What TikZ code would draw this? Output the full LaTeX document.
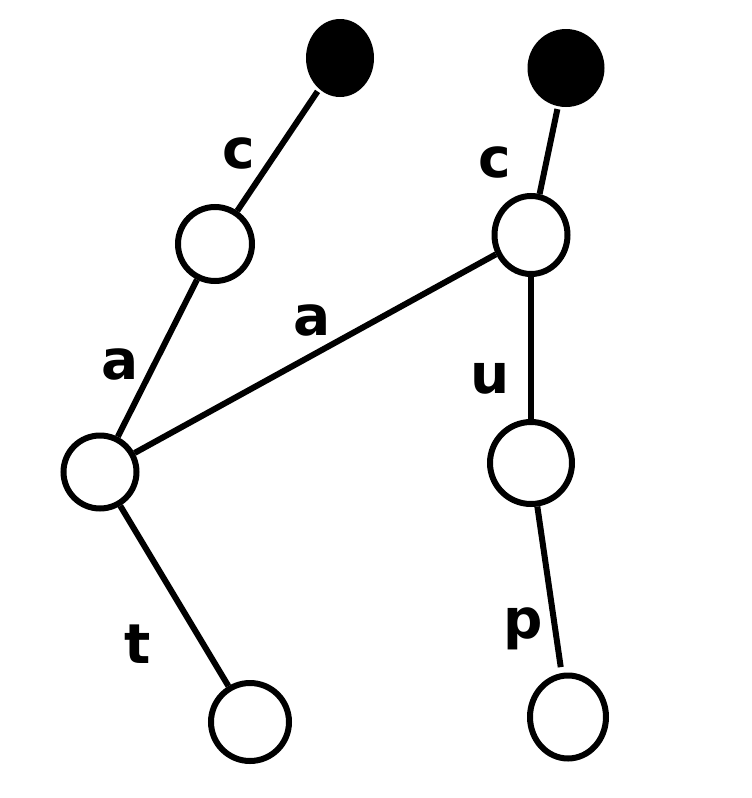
\documentclass[tikz,border=0pt]{standalone}
\usepackage{fontspec}
\setmainfont{DejaVu Sans}
\usetikzlibrary{shapes.geometric}
\tikzset{
  vtx/.style={ellipse,draw,line width=6pt,inner sep=0pt,minimum width=#1,minimum height=#1},
  root/.style={ellipse,fill=black,inner sep=0pt},
  lbl/.style={anchor=base,inner sep=0pt,font=\fontsize{55}{55}\selectfont\bfseries},
}
\begin{document}
\begin{tikzpicture}[x=1pt,y=-1pt,line width=6pt]
  \useasboundingbox (0,0) rectangle (752,798);
  % the two roots
  \node[root,minimum width=68pt,minimum height=78pt] (r1) at (340,58) {};
  \node[root,minimum width=77pt,minimum height=78pt] (r2) at (566,68) {};
  % the trie nodes
  \node[vtx=74pt] (c1) at (215,244) {};
  \node[vtx=73pt,minimum height=78pt] (c2) at (531,235) {};
  \node[vtx=73pt] (a1) at (100,472) {};
  \node[vtx=82pt] (u1) at (531,463) {};
  \node[vtx=78pt] (t1) at (250,722) {};
  \node[vtx=76pt,minimum height=83pt] (p1) at (568,717) {};
  % edges
  \draw (r1) -- (c1);
  \draw (r2) -- (c2);
  \draw (c1) -- (a1);
  \draw (c2) -- (a1);
  \draw (c2) -- (u1);
  \draw (a1) -- (t1);
  \draw[shorten >=6pt] (u1) -- (p1);
  % letters
  \foreach \x/\y/\t in {239/168/c,495/177/c,120/379/a,312/335/a,490/393/u,138/663/t,523/638/p}
    \node[lbl] at (\x,\y) {\t};
\end{tikzpicture}
\end{document}
